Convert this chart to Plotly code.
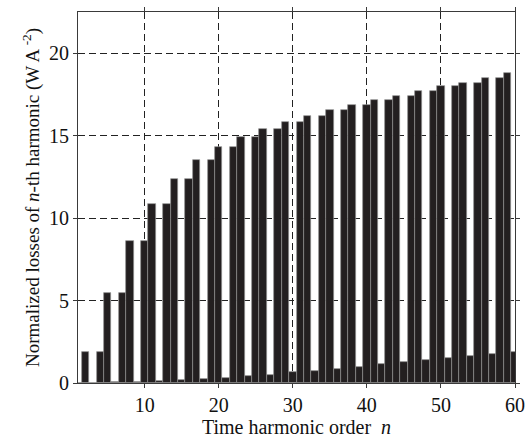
import plotly.graph_objects as go

# Time harmonic orders n = 1..60
harmonic_order = list(range(1, 61))

# Normalized losses of each harmonic (W A^-2)
losses = [
    0.00, 1.90, 0.02, 1.90, 5.45, 0.04, 5.45, 8.60, 0.07, 8.60,
    10.85, 0.11, 10.85, 12.40, 0.16, 12.40, 13.50, 0.22, 13.50, 14.30,
    0.29, 14.30, 14.93, 0.40, 14.93, 15.43, 0.50, 15.43, 15.85, 0.65,
    15.85, 16.20, 0.75, 16.20, 16.55, 0.87, 16.55, 16.85, 0.99, 16.85,
    17.15, 1.15, 17.15, 17.40, 1.27, 17.40, 17.70, 1.37, 17.70, 18.00,
    1.50, 18.00, 18.20, 1.64, 18.20, 18.50, 1.76, 18.50, 18.83, 1.90,
]

x_ticks = [10, 20, 30, 40, 50, 60]
y_ticks = [0, 5, 10, 15, 20]

serif = "Liberation Serif, Times New Roman, serif"

fig = go.Figure(
    go.Bar(
        x=harmonic_order,
        y=losses,
        width=1,
        marker=dict(color="#231f20", line=dict(color="#8e8e8e", width=0.7)),
    )
)

axis_common = dict(
    showline=True,
    linecolor="#3a3a3a",
    linewidth=1,
    mirror="ticks",
    ticks="outside",
    ticklen=4,
    tickcolor="#3a3a3a",
    showgrid=True,
    gridcolor="#222222",
    gridwidth=1,
    griddash="7px,4px",
    zeroline=False,
    tickfont=dict(family=serif, size=20, color="#111111"),
)

fig.update_xaxes(
    range=[1, 60],
    tickvals=x_ticks,
    title=dict(
        text="Time harmonic order&nbsp;&nbsp;<i>n</i>",
        font=dict(family=serif, size=20, color="#111111"),
        standoff=3,
    ),
    **axis_common,
)
fig.update_yaxes(
    range=[0, 22.5],
    tickvals=y_ticks,
    title=dict(
        text="Normalized losses of <i>n</i>-th harmonic (W A<sup> -2</sup>)",
        font=dict(family=serif, size=19, color="#111111"),
        standoff=4,
    ),
    **axis_common,
)

fig.update_layout(
    width=530,
    height=438,
    margin=dict(l=78, r=15, t=12, b=55, autoexpand=False),
    plot_bgcolor="white",
    paper_bgcolor="white",
    bargap=0,
    showlegend=False,
)

fig.write_html("out.html")
